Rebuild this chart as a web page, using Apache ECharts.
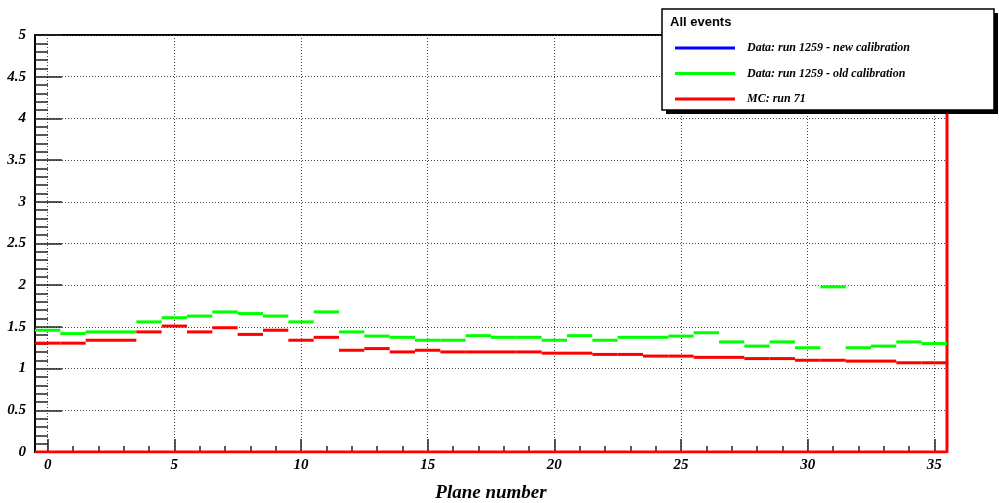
<!DOCTYPE html>
<html>
<head>
<meta charset="utf-8">
<script src="https://cdn.jsdelivr.net/npm/echarts@6/dist/echarts.min.js"></script>
<style>
  html, body { margin: 0; padding: 0; background: #fff; }
  #chart { width: 999px; height: 503px; }
</style>
</head>
<body>
<div id="chart"></div>
<script>
// Plane index of each bin (bin width 1, centred on the integer)
const planes = [0, 1, 2, 3, 4, 5, 6, 7, 8, 9, 10, 11, 12, 13, 14, 15, 16, 17,
                18, 19, 20, 21, 22, 23, 24, 25, 26, 27, 28, 29, 30, 31, 32, 33, 34, 35];

// Data: run 1259 - new calibration (no entries)
const newCalib = [];

// Data: run 1259 - old calibration
const oldCalib = [1.46, 1.42, 1.44, 1.44, 1.56, 1.61, 1.63, 1.68, 1.66, 1.63, 1.56, 1.68,
                  1.44, 1.39, 1.375, 1.34, 1.34, 1.395, 1.375, 1.375, 1.34, 1.395, 1.34, 1.375,
                  1.375, 1.39, 1.43, 1.32, 1.27, 1.32, 1.25, 1.98, 1.25, 1.27, 1.32, 1.30];

// MC: run 71
const mcRun = [1.305, 1.305, 1.34, 1.34, 1.44, 1.51, 1.44, 1.49, 1.41, 1.46, 1.34, 1.375,
               1.22, 1.24, 1.20, 1.22, 1.20, 1.20, 1.20, 1.20, 1.185, 1.185, 1.17, 1.17,
               1.15, 1.15, 1.135, 1.135, 1.12, 1.12, 1.10, 1.10, 1.09, 1.09, 1.07, 1.07];

// MC histogram outline along the lower and right edges
const mcOutline = [[-0.5, 0], [35.5, 0], [35.5, 5]];

// Axis ticks
const xMajorTicks = [0, 5, 10, 15, 20, 25, 30, 35];
const xMinorTicks = planes;

const seriesNames = ['Data: run 1259 - new calibration', 'Data: run 1259 - old calibration', 'MC: run 71'];
const seriesColors = ['#0000ff', '#00ff00', '#ff0000'];

const serifBI = { fontFamily: 'Liberation Serif', fontWeight: 'bold', fontStyle: 'italic', color: '#000' };

function pairs(values) {
  return values.map((v, i) => [planes[i], v]);
}

// One horizontal segment per bin, spanning the bin width
function renderBin(params, api) {
  const x = api.value(0), y = api.value(1);
  const a = api.coord([x - 0.5, y]);
  const b = api.coord([x + 0.5, y]);
  return {
    type: 'line',
    shape: { x1: a[0], y1: a[1], x2: b[0], y2: b[1] },
    style: { stroke: api.visual('color'), lineWidth: 3 }
  };
}

function binSeries(name, color, values) {
  return {
    name: name,
    type: 'custom',
    renderItem: renderBin,
    itemStyle: { color: color },
    encode: { x: 0, y: 1 },
    data: pairs(values),
    z: 5
  };
}

const chart = echarts.init(document.getElementById('chart'), null, { renderer: 'canvas' });

chart.setOption({
  animation: false,
  backgroundColor: '#ffffff',
  grid: {
    left: 35, right: 52, top: 35, bottom: 51,
    outerBoundsMode: 'none', containLabel: false,
    show: true, borderColor: '#000', borderWidth: 2, backgroundColor: 'transparent'
  },
  xAxis: [
    {
      type: 'value', min: -0.5, max: 35.5,
      name: 'Plane number', nameLocation: 'middle', nameGap: 32,
      nameTextStyle: Object.assign({ fontSize: 19 }, serifBI),
      axisLine: { show: true, onZero: false, lineStyle: { color: '#000', width: 2 } },
      axisTick: { show: true, inside: true, length: 13, customValues: xMajorTicks,
                  lineStyle: { color: '#222', width: 1.5 } },
      axisLabel: Object.assign({ fontSize: 15, margin: 6, customValues: xMajorTicks }, serifBI),
      splitLine: { show: true, lineStyle: { color: '#444', width: 1, type: [1, 2] } }
    },
    {
      type: 'value', min: -0.5, max: 35.5, position: 'bottom',
      axisLine: { show: false },
      axisTick: { show: true, inside: true, length: 6, customValues: xMinorTicks,
                  lineStyle: { color: '#222', width: 1.5 } },
      axisLabel: { show: false },
      splitLine: { show: false }
    }
  ],
  yAxis: {
    type: 'value', min: 0, max: 5, interval: 0.5,
    axisLine: { show: true, onZero: false, lineStyle: { color: '#000', width: 2 } },
    axisTick: { show: true, inside: true, length: 27, lineStyle: { color: '#222', width: 1.5 } },
    minorTick: { show: true, splitNumber: 5, length: 13, lineStyle: { color: '#222', width: 1.5 } },
    axisLabel: Object.assign({ fontSize: 15, margin: 9 }, serifBI),
    splitLine: { show: true, lineStyle: { color: '#444', width: 1, type: [1, 2] } }
  },
  legend: {
    orient: 'vertical', left: 675, top: 40, padding: 0, z: 60,
    icon: 'rect', itemWidth: 60, itemHeight: 3, itemGap: 9.5,
    selectedMode: false,
    data: seriesNames,
    textStyle: Object.assign({ fontSize: 12, lineHeight: 16, padding: [0, 0, 0, 7] }, serifBI)
  },
  graphic: [
    { type: 'rect', z: 50, shape: { x: 666, y: 13, width: 332, height: 101 },
      style: { fill: '#000' } },
    { type: 'rect', z: 51, shape: { x: 662, y: 9, width: 332, height: 101 },
      style: { fill: '#fff', stroke: '#000', lineWidth: 1.5 } },
    { type: 'text', z: 52, x: 670, y: 22,
      style: { text: 'All events', fontFamily: 'Liberation Sans', fontWeight: 'bold', fontSize: 13,
               fill: '#000', verticalAlign: 'middle' } }
  ],
  series: [
    binSeries(seriesNames[0], seriesColors[0], newCalib),
    binSeries(seriesNames[1], seriesColors[1], oldCalib),
    binSeries(seriesNames[2], seriesColors[2], mcRun),
    {
      name: 'MC outline', type: 'line', data: mcOutline, symbol: 'none', silent: true,
      lineStyle: { color: '#ff0000', width: 3 }, z: 4
    }
  ]
});
</script>
</body>
</html>
